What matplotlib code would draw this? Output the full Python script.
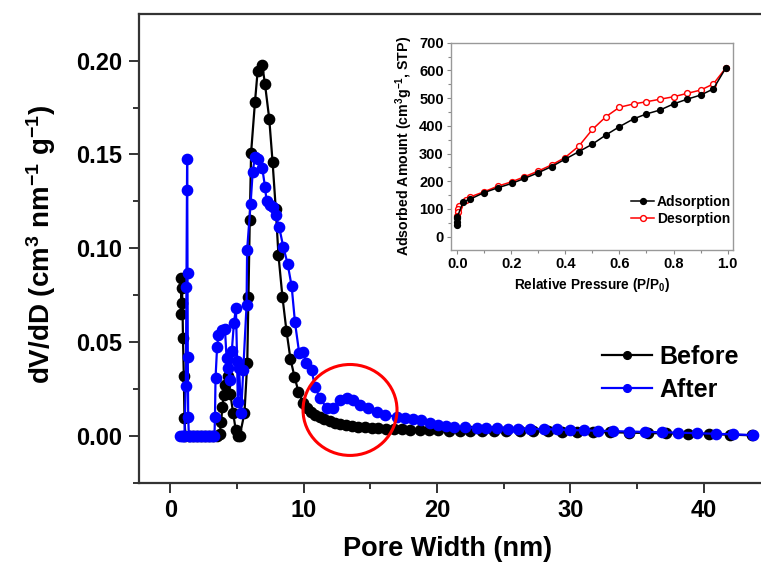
import matplotlib
matplotlib.use("Agg")
import matplotlib.pyplot as plt
from matplotlib.patches import Ellipse
from matplotlib.ticker import MultipleLocator, FormatStrFormatter

plt.rcParams['font.family'] = ['Liberation Sans', 'DejaVu Sans']
plt.rcParams['font.weight'] = 'bold'
plt.rcParams['mathtext.fontset'] = 'custom'
plt.rcParams['mathtext.rm'] = 'Liberation Sans:bold'
plt.rcParams['mathtext.bf'] = 'Liberation Sans:bold'
plt.rcParams['mathtext.default'] = 'rm'

# pore size distribution, before treatment
before_x = [0.78, 0.82, 0.86, 0.90, 0.94, 1.00, 1.05, 1.12, 1.4, 1.7, 2.0, 2.3, 2.6, 2.9, 3.2, 3.5,
            3.7, 3.8, 3.9, 4.0, 4.1, 4.3, 4.5, 4.7, 4.9, 5.1, 5.2, 5.55, 5.76, 5.85, 5.95, 6.05,
            6.34, 6.54, 6.89, 7.09, 7.41, 7.66, 7.9, 8.1, 8.4, 8.7, 9.0, 9.3, 9.6, 9.95,
            10.25, 10.55, 10.85, 11.2, 11.55, 11.95, 12.35, 12.75, 13.2, 13.65, 14.1, 14.6,
            15.1, 15.6, 16.2, 16.8, 17.4, 18.0, 18.7, 19.4, 20.1, 20.9, 21.7, 22.5, 23.4,
            24.3, 25.2, 26.2, 27.2, 28.3, 29.4, 30.5, 31.7, 33.0, 34.4, 35.8, 37.2, 38.8,
            40.4, 42.0, 43.6]
before_y = [0.065, 0.084, 0.0786, 0.0706, 0.052, 0.032, 0.0093, 0.0, 0.0, 0.0, 0.0, 0.0, 0.0, 0.0, 0.0, 0.0,
            0.001, 0.0075, 0.0155, 0.0217, 0.027, 0.032, 0.022, 0.012, 0.003, 0.0, 0.0, 0.012, 0.0386, 0.074, 0.115, 0.151,
            0.178, 0.1945, 0.1975, 0.1876, 0.169, 0.146, 0.121, 0.0964, 0.074, 0.056, 0.041, 0.0315, 0.0235, 0.0173,
            0.0145, 0.0125, 0.011, 0.0098, 0.0087, 0.0078, 0.007, 0.0063, 0.0057, 0.0052, 0.0048, 0.0045,
            0.0042, 0.004, 0.0038, 0.0036, 0.0034, 0.0032, 0.003, 0.0029, 0.0028, 0.0027, 0.0026, 0.0025, 0.0025,
            0.0024, 0.0024, 0.0024, 0.0024, 0.0023, 0.0022, 0.0021, 0.002, 0.0018, 0.0016, 0.0014, 0.0012, 0.001,
            0.0008, 0.0005, 0.0002]

# pore size distribution, after treatment
after_x = [0.75, 0.85, 0.95, 1.05, 1.15, 1.2, 1.25, 1.26, 1.28, 1.3, 1.33, 1.38, 1.5, 1.65, 1.8, 1.95,
           2.1, 2.25, 2.4, 2.55, 2.7, 2.85, 3.0, 3.15, 3.3, 3.34, 3.38, 3.5, 3.6, 3.84, 4.09,
           4.21, 4.35, 4.45, 4.6, 4.76, 4.91, 5.0, 5.05, 5.15, 5.3, 5.46, 5.71, 5.75, 6.01,
           6.17, 6.34, 6.59, 6.89, 7.09, 7.21, 7.46, 7.7, 7.89, 8.16, 8.46, 8.79, 9.09, 9.34,
           9.66, 9.97, 10.17, 10.59, 10.84, 11.22, 11.72, 12.2, 12.72, 13.22, 13.72, 14.22,
           14.84, 15.47, 16.1, 16.97, 17.6, 18.2, 18.8, 19.5, 20.1, 20.7, 21.3, 22.1, 23.0,
           23.7, 24.5, 25.3, 26.1, 27.0, 28.0, 29.0, 30.0, 31.0, 32.1, 33.2, 34.4, 35.6,
           36.9, 38.1, 39.5, 40.9, 42.2, 43.7]
after_y = [0.0, 0.0, 0.0, 0.0, 0.0267, 0.0795, 0.1474, 0.131, 0.087, 0.0418, 0.0101, 0.0, 0.0, 0.0, 0.0, 0.0,
           0.0, 0.0, 0.0, 0.0, 0.0, 0.0, 0.0, 0.0, 0.0, 0.0101, 0.0306, 0.0475, 0.0537, 0.0564, 0.0567,
           0.0413, 0.036, 0.0297, 0.045, 0.060, 0.068, 0.040, 0.018, 0.036, 0.012, 0.035, 0.0697, 0.099, 0.1236,
           0.1408, 0.1488, 0.1474, 0.1426, 0.1328, 0.1253, 0.123, 0.1218, 0.1177, 0.1111, 0.1008, 0.0916, 0.0798, 0.0605,
           0.0439, 0.0448, 0.0386, 0.035, 0.026, 0.020, 0.0146, 0.0146, 0.019, 0.020, 0.019, 0.0165,
           0.0146, 0.0128, 0.011, 0.0101, 0.0095, 0.009, 0.0082, 0.0068, 0.0057, 0.005, 0.0047, 0.0044, 0.0042,
           0.004, 0.0039, 0.0038, 0.0037, 0.0036, 0.0035, 0.0033, 0.003, 0.0028, 0.0026, 0.0024, 0.0022, 0.002,
           0.0018, 0.0016, 0.0013, 0.001, 0.0007, 0.0003]

# nitrogen isotherm (inset)
ads_p = [0.0, 0.0, 0.0, 0.001, 0.022, 0.049, 0.099, 0.152, 0.201, 0.248, 0.30, 0.349, 0.398, 0.45,
         0.50, 0.55, 0.60, 0.652, 0.70, 0.75, 0.80, 0.85, 0.90, 0.947, 0.994]
ads_v = [42, 54, 66, 72, 126, 136, 159, 177, 192, 210, 231, 253, 279, 307,
         334, 367, 397, 425, 443, 457, 479, 496, 511, 533, 610]
des_p = [0.994, 0.947, 0.90, 0.85, 0.80, 0.75, 0.70, 0.652, 0.60, 0.55, 0.50, 0.45, 0.398, 0.349,
         0.30, 0.248, 0.201, 0.152, 0.099, 0.049, 0.032, 0.007, 0.004, 0.002, 0.001]
des_v = [610, 551, 529, 517, 505, 496, 487, 479, 467, 433, 387, 327, 285, 259,
         237, 216, 198, 183, 162, 144, 132, 110, 100, 88, 75]

W, H = 761, 562
fig = plt.figure(figsize=(W / 100, H / 100), dpi=100)
fig.patch.set_facecolor('white')

ax = fig.add_axes([139 / W, 1 - 482.7 / H, 622 / W, 468.7 / H])
ax.plot(before_x, before_y, '-o', color='black', lw=1.6, ms=7.4, label='Before', zorder=3)
ax.plot(after_x, after_y, '-o', color='#0000ff', lw=1.6, ms=7.4, label='After', zorder=4)

ax.set_xlim(-2.36, 44.3)
ax.set_ylim(-0.0251, 0.2249)
ax.xaxis.set_major_locator(MultipleLocator(10))
ax.xaxis.set_minor_locator(MultipleLocator(5))
ax.yaxis.set_major_locator(MultipleLocator(0.05))
ax.yaxis.set_minor_locator(MultipleLocator(0.025))
ax.yaxis.set_major_formatter(FormatStrFormatter('%.2f'))
ax.tick_params(which='major', direction='out', length=7, width=1.4, labelsize=17, color='#333333', pad=5)
ax.tick_params(which='minor', direction='out', length=4, width=1.4, color='#333333')
for lab in ax.get_xticklabels() + ax.get_yticklabels():
    lab.set_fontweight('bold')
ax.spines['right'].set_visible(False)
for s in ['left', 'top', 'bottom']:
    ax.spines[s].set_color('#333333')
    ax.spines[s].set_linewidth(1.6)

ax.set_xlabel('Pore Width (nm)', fontsize=19.5, fontweight='bold', ha='center', va='center')
ax.xaxis.set_label_coords((448 - 139) / 622, (482.7 - 549) / 468.7)
ax.set_ylabel('dV/dD (cm$^{3}$ nm$^{-1}$ g$^{-1}$)', fontsize=20, fontweight='bold',
              ha='center', va='center')
ax.yaxis.set_label_coords((41 - 139) / 622, (482.7 - 244) / 468.7)

# highlight the mesopore shoulder
ax.add_patch(Ellipse((13.47, 0.0137), 7.05, 0.0485, fill=False, ec='#ff0000', lw=2.2, zorder=5))

ax.legend(loc='upper left', bbox_to_anchor=((589 - 139) / 622, (482.7 - 332) / 468.7),
          frameon=False, fontsize=18, markerscale=0.75, handlelength=2.0,
          handletextpad=0.3, labelspacing=0.38, borderpad=0)

# isotherm inset
ins = fig.add_axes([450.7 / W, 1 - 250 / H, 282.6 / W, 207.3 / H])
ins.plot(ads_p, ads_v, '-o', color='black', lw=1.1, ms=4.2, label='Adsorption', zorder=4)
ins.plot(des_p, des_v, '-o', color='#ff0000', mfc='white', mec='#ff0000', lw=1.1, ms=4.2,
         label='Desorption', zorder=3)
ins.set_xlim(-0.024, 1.021)
ins.set_ylim(-48, 700)
ins.xaxis.set_major_locator(MultipleLocator(0.2))
ins.xaxis.set_minor_locator(MultipleLocator(0.1))
ins.yaxis.set_major_locator(MultipleLocator(100))
ins.yaxis.set_minor_locator(MultipleLocator(50))
ins.xaxis.set_major_formatter(FormatStrFormatter('%.1f'))
ins.tick_params(which='major', direction='out', length=3, width=0.8, labelsize=10.5, color='#888888', pad=2)
ins.tick_params(which='minor', direction='out', length=2, width=0.8, color='#888888')
for lab in ins.get_xticklabels() + ins.get_yticklabels():
    lab.set_fontweight('bold')
for s in ins.spines.values():
    s.set_color('#999999')
    s.set_linewidth(1.0)
ins.set_xlabel('Relative Pressure (P/P$_{0}$)', fontsize=9.8, fontweight='bold', labelpad=4)
ins.set_ylabel('Adsorbed Amount (cm$^{3}$g$^{-1}$, STP)', fontsize=10.2, fontweight='bold', labelpad=3)
ins.legend(loc='upper left', bbox_to_anchor=(0.615, 0.30), frameon=False, fontsize=10,
           handlelength=1.6, handletextpad=0.25, labelspacing=0.2, borderpad=0)

fig.savefig('out.png', dpi=100)
